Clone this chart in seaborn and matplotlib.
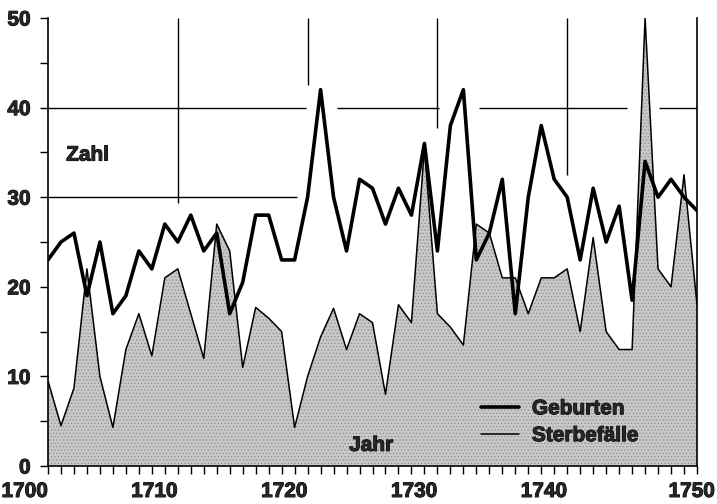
import pandas as pd
import numpy as np
import matplotlib
matplotlib.use('Agg')
import matplotlib.pyplot as plt
import matplotlib.font_manager as fm
import matplotlib.patheffects as pe
from matplotlib.ticker import MultipleLocator
from matplotlib.transforms import ScaledTranslation
import seaborn as sns

# Werte
jahre = list(range(1700, 1751))
geburten = [23, 25, 26, 19, 25, 17, 19, 24, 22, 27,
            25, 28, 24, 26, 17, 20.5, 28, 28, 23, 23,
            30, 42, 30, 24, 32, 31, 27, 31, 28, 36,
            24, 38, 42, 23, 26, 32, 17, 30, 38, 32,
            30, 23, 31, 25, 29, 18.5, 34, 30, 32, 30,
            28.5]
sterbefaelle = [9.5, 4.5, 8.7, 22, 10, 4.3, 13, 17, 12.3, 21,
                22, 17, 12, 27, 24, 11, 17.7, 16.5, 15, 4.3,
                10, 14.4, 17.6, 13, 17, 16, 8, 18, 16, 35.5,
                17, 15.5, 13.5, 27, 26, 21, 21, 17, 21, 21,
                22, 15, 25.5, 15, 13, 13, 50, 22, 20, 32.5,
                18]
x_ticks = [1700, 1710, 1720, 1730, 1740, 1750]
y_ticks = [0, 10, 20, 30, 40, 50]

df = pd.DataFrame({'Jahr': jahre, 'Geburten': geburten, 'Sterbefälle': sterbefaelle})

sns.set_style('ticks')
plt.rcParams['font.family'] = ['Liberation Sans', 'DejaVu Sans']
plt.rcParams['hatch.linewidth'] = 0.5

# fette Schrift direkt aus Datei holen (Helvetica-ähnlich)
bold_path = None
for wanted in ['LiberationSans-Bold.ttf', 'Arimo-Bold', 'Roboto-Bold.ttf', 'DejaVuSans-Bold.ttf']:
    for f in fm.findSystemFonts() + [fm.findfont(fm.FontProperties(family='DejaVu Sans', weight='bold'))]:
        if wanted in f:
            bold_path = f
            break
    if bold_path:
        break
fp = fm.FontProperties(fname=bold_path, size=15)
dick = [pe.withStroke(linewidth=0.7, foreground='black')]

fig = plt.figure(figsize=(7.17, 5.04), dpi=100)
ax = fig.add_axes([48 / 717, 38 / 504, 649 / 717, 448 / 504])

# Hilfslinien (teilweise unterbrochen wie im Original)
ax.hlines([40, 40, 40, 40], [1700, 1722.3, 1733.2, 1747.1], [1719.9, 1730.15, 1744.6, 1750],
          color='black', linewidth=1.0, zorder=0)
ax.hlines(30, 1700, 1719.15, color='black', linewidth=1.0, zorder=0)
ax.vlines([1710, 1720, 1730, 1740], [29.3, 42.5, 37.7, 32.5], 50,
          color='black', linewidth=1.0, zorder=0)

# Sterbefälle als graue Fläche
ax.fill_between(df['Jahr'], df['Sterbefälle'], 0, facecolor='#c8c8c8',
                edgecolor='#8c8c8c', hatch='.....', linewidth=0, zorder=1)
sns.lineplot(data=df, x='Jahr', y='Sterbefälle', color='black', linewidth=1.1,
             ax=ax, label='Sterbefälle', zorder=3)
sns.lineplot(data=df, x='Jahr', y='Geburten', color='black', linewidth=2.6,
             ax=ax, label='Geburten', zorder=4)

ax.set_xlim(1700, 1750)
ax.set_ylim(0, 50)
ax.set_xlabel('')
ax.set_ylabel('')

ax.set_xticks(x_ticks)
ax.xaxis.set_minor_locator(MultipleLocator(1))
ax.set_yticks(y_ticks)
ax.yaxis.set_minor_locator(MultipleLocator(5))
ax.tick_params(axis='both', which='both', length=5.5, width=1, color='black', direction='out')
ax.tick_params(axis='y', which='major', pad=7)
ax.tick_params(axis='x', which='major', pad=6)

ax.set_xticklabels([str(t) for t in x_ticks])
ax.set_yticklabels([str(t) for t in y_ticks])
for lab in ax.get_xticklabels() + ax.get_yticklabels():
    lab.set_fontproperties(fp)
    lab.set_path_effects(dick)
xlabs = ax.get_xticklabels()
for lab in xlabs:
    lab.set_horizontalalignment('right')
xlabs[-1].set_transform(xlabs[-1].get_transform() + ScaledTranslation(18 / 100, 0, fig.dpi_scale_trans))

for side in ['left', 'bottom', 'right']:
    ax.spines[side].set_color('black')
    ax.spines[side].set_linewidth(1.2)
ax.spines['top'].set_visible(False)
ax.spines['right'].set_zorder(5)

ax.text(1701.4, 34.7, 'Zahl', fontproperties=fp, va='center', ha='left', path_effects=dick)
ax.text(1724.9, 2.3, 'Jahr', fontproperties=fp, va='center', ha='center', zorder=6, path_effects=dick)

handles, names = ax.get_legend_handles_labels()
order = [names.index('Geburten'), names.index('Sterbefälle')]
leg = ax.legend([handles[i] for i in order], [names[i] for i in order],
                loc='upper left', bbox_to_anchor=(0.667, 0.149), frameon=False,
                prop=fp, handlelength=1.85, handletextpad=0.6, labelspacing=0.38,
                borderpad=0, borderaxespad=0)
for t in leg.get_texts():
    t.set_path_effects(dick)

fig.savefig('out.png', dpi=100)
